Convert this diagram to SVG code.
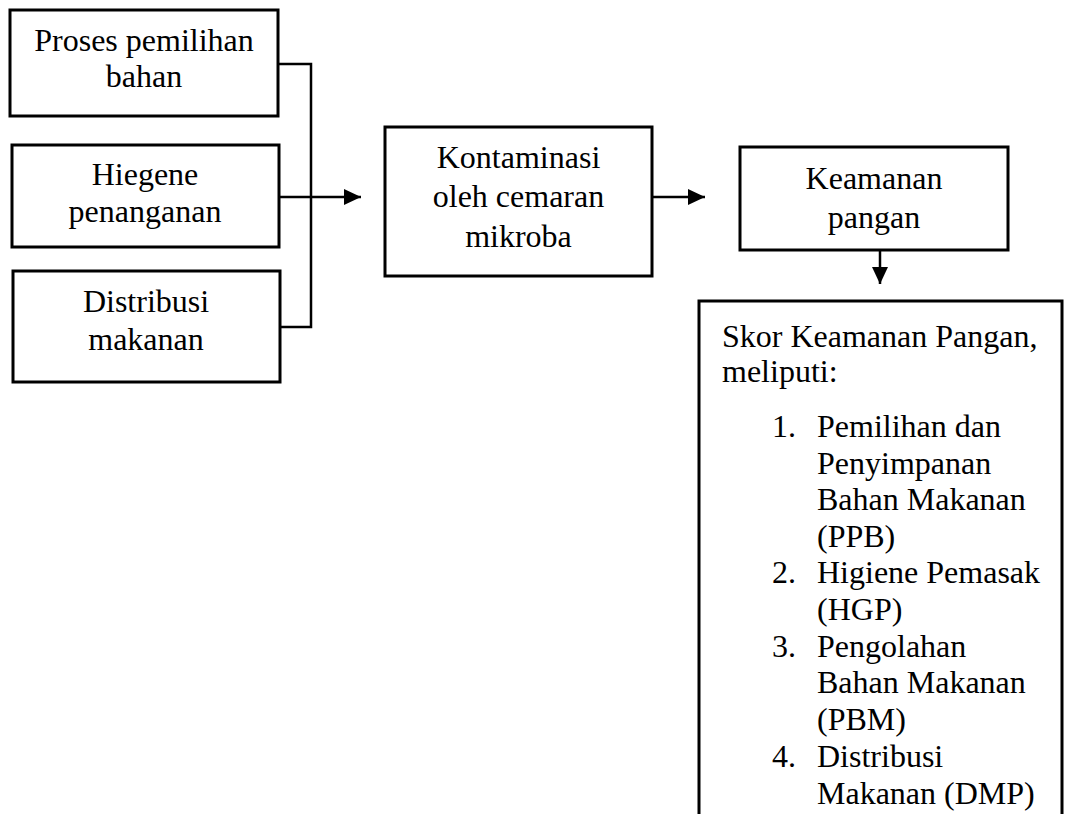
<svg xmlns="http://www.w3.org/2000/svg" width="1066" height="814" viewBox="0 0 1066 814">
<style>
.box{fill:#fff;stroke:#000;stroke-width:3}
.t{font-family:"Liberation Serif","Times New Roman",serif;font-size:32px;fill:#000}
.c{text-anchor:middle}
.ln{fill:none;stroke:#000;stroke-width:2.5}
</style>
<defs>
<marker id="ah" markerUnits="userSpaceOnUse" markerWidth="18" markerHeight="18" refX="17" refY="8" orient="auto">
<path d="M0,0 L17,8 L0,16 Z" fill="#000"/>
</marker>
</defs>
<rect width="1066" height="814" fill="#fff"/>
<g id="connectors">
<path class="ln" d="M278,64 H311 V327 H280"/>
<path class="ln" d="M279,197 H361" marker-end="url(#ah)"/>
<path class="ln" d="M652,197 H705" marker-end="url(#ah)"/>
<path class="ln" d="M880,250 V284" marker-end="url(#ah)"/>
</g>
<g id="n1">
<rect class="box" x="10" y="10" width="268" height="106"/>
<text class="t c" x="144" y="51">Proses pemilihan</text>
<text class="t c" x="144" y="87">bahan</text>
</g>
<g id="n2">
<rect class="box" x="12" y="145" width="267" height="102"/>
<text class="t c" x="145" y="185">Hiegene</text>
<text class="t c" x="145" y="222">penanganan</text>
</g>
<g id="n3">
<rect class="box" x="13" y="271" width="267" height="111"/>
<text class="t c" x="146" y="312">Distribusi</text>
<text class="t c" x="146" y="350">makanan</text>
</g>
<g id="n4">
<rect class="box" x="385" y="127" width="267" height="149"/>
<text class="t c" x="518.5" y="168">Kontaminasi</text>
<text class="t c" x="518.5" y="207">oleh cemaran</text>
<text class="t c" x="518.5" y="247">mikroba</text>
</g>
<g id="n5">
<rect class="box" x="740" y="147" width="268" height="103"/>
<text class="t c" x="874" y="189">Keamanan</text>
<text class="t c" x="874" y="228">pangan</text>
</g>
<g id="n6">
<rect class="box" x="699" y="301" width="363" height="600"/>
<text class="t" x="722" y="347">Skor Keamanan Pangan,</text>
<text class="t" x="722" y="382">meliputi:</text>
<text class="t" x="772" y="437">1.</text>
<text class="t" x="817" y="437">Pemilihan dan</text>
<text class="t" x="817" y="473.5">Penyimpanan</text>
<text class="t" x="817" y="510">Bahan Makanan</text>
<text class="t" x="817" y="547">(PPB)</text>
<text class="t" x="772" y="583">2.</text>
<text class="t" x="817" y="583">Higiene Pemasak</text>
<text class="t" x="817" y="620">(HGP)</text>
<text class="t" x="772" y="657">3.</text>
<text class="t" x="817" y="657">Pengolahan</text>
<text class="t" x="817" y="693">Bahan Makanan</text>
<text class="t" x="817" y="730">(PBM)</text>
<text class="t" x="772" y="767">4.</text>
<text class="t" x="817" y="767">Distribusi</text>
<text class="t" x="817" y="804">Makanan (DMP)</text>
</g>
</svg>
